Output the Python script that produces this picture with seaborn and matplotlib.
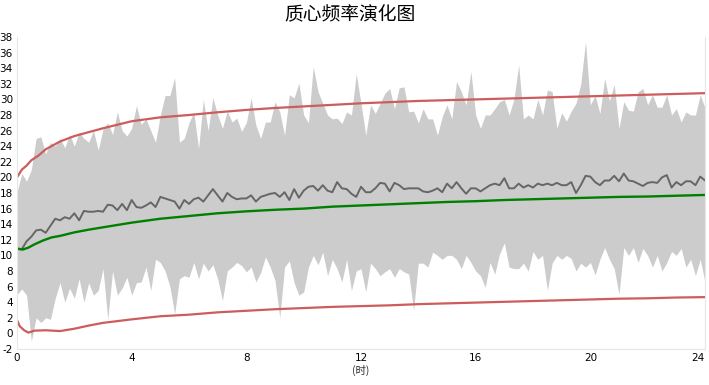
import numpy as np
import pandas as pd
import matplotlib
matplotlib.use("Agg")
import matplotlib.pyplot as plt
import seaborn as sns

title = "质心频率演化图"
x_label = "(时)"
x_ticks = [0, 4, 8, 12, 16, 20, 24]
y_ticks = list(range(-2, 39, 2))

# noisy series sampled every 10 minutes (145 samples over 24 h)
band_upper = [
    18.1, 20.5, 19.5, 21.0, 25.0, 25.2, 23.0, 24.5, 24.0, 25.0,
    23.8, 25.5, 24.0, 25.8, 25.0, 24.5, 26.0, 23.5, 26.2, 27.0,
    25.5, 28.4, 26.0, 25.3, 26.3, 29.2, 26.8, 27.5, 26.0, 24.5,
    28.0, 30.5, 30.5, 32.8, 24.5, 25.0, 27.0, 28.4, 23.7, 30.0,
    26.0, 30.2, 28.0, 26.3, 28.5, 27.1, 27.6, 25.9, 27.0, 30.2,
    26.7, 25.0, 27.1, 27.1, 29.7, 28.4, 25.4, 30.6, 30.2, 32.1,
    28.0, 27.0, 34.2, 31.0, 29.5, 28.0, 27.5, 27.6, 26.9, 28.4,
    28.0, 33.3, 29.5, 25.4, 29.3, 28.2, 29.5, 30.8, 31.4, 28.8,
    31.5, 31.6, 28.4, 28.5, 27.0, 28.8, 27.5, 27.5, 25.4, 27.8,
    29.3, 27.5, 32.3, 31.0, 29.3, 33.6, 28.0, 26.3, 28.0, 28.0,
    28.8, 29.7, 30.0, 28.0, 30.0, 34.4, 27.5, 28.0, 27.5, 30.0,
    28.0, 31.2, 31.0, 26.3, 28.3, 27.2, 28.5, 29.5, 32.0, 37.4,
    29.3, 30.5, 28.2, 32.7, 29.8, 31.9, 26.3, 29.7, 28.6, 28.5,
    31.0, 31.4, 29.3, 30.6, 29.0, 29.0, 30.6, 28.0, 28.8, 27.1,
    28.4, 28.0, 28.0, 30.6, 28.9,
]
band_lower = [
    5.0, 5.7, 4.9, -1.0, 2.0, 1.4, 2.0, 1.8, 4.5, 6.5,
    4.0, 5.8, 4.5, 7.0, 4.0, 6.5, 4.9, 5.5, 8.3, 1.8,
    8.0, 4.9, 5.8, 7.2, 4.9, 6.5, 6.6, 8.5, 5.5, 9.5,
    9.1, 8.0, 6.0, 2.5, 7.0, 7.4, 7.2, 9.1, 7.0, 9.0,
    8.0, 8.8, 7.0, 4.2, 8.0, 8.5, 9.1, 8.7, 7.9, 8.5,
    6.6, 7.8, 9.8, 8.5, 6.8, 2.0, 8.5, 9.3, 6.5, 4.9,
    5.3, 8.5, 10.0, 8.8, 10.4, 7.4, 9.5, 8.3, 6.6, 9.5,
    5.5, 8.0, 8.3, 5.3, 9.0, 8.3, 7.4, 7.9, 8.3, 7.2,
    8.3, 7.9, 7.6, 3.0, 9.0, 9.0, 8.5, 10.4, 10.0, 9.5,
    10.0, 10.0, 9.5, 8.3, 10.0, 9.1, 8.0, 7.4, 5.9, 9.1,
    7.6, 10.2, 11.6, 8.5, 8.3, 8.3, 9.0, 8.0, 10.5, 9.5,
    10.0, 5.5, 9.0, 10.0, 9.5, 10.0, 9.6, 8.0, 9.0, 8.5,
    9.1, 7.5, 9.5, 11.0, 9.5, 8.3, 5.0, 11.0, 10.0, 11.0,
    9.1, 10.9, 10.0, 8.5, 10.0, 8.0, 9.1, 10.5, 10.0, 10.9,
    8.5, 9.5, 7.4, 9.5, 6.6,
]
mean_line = [
    10.9, 10.8, 11.8, 12.4, 13.2, 13.3, 12.9, 13.8, 14.7, 14.5,
    14.9, 14.7, 15.4, 14.5, 15.7, 15.6, 15.6, 15.7, 15.6, 16.5,
    16.4, 15.8, 16.6, 15.8, 17.1, 16.2, 16.1, 16.4, 16.8, 16.2,
    17.5, 17.3, 17.1, 16.9, 16.0, 17.1, 16.6, 17.2, 17.4, 16.9,
    17.7, 18.5, 17.7, 16.9, 18.0, 17.5, 17.2, 17.3, 17.3, 17.7,
    16.9, 17.5, 17.7, 17.9, 18.0, 17.5, 18.1, 17.1, 18.5, 17.4,
    18.3, 18.8, 18.9, 18.3, 19.0, 18.3, 18.1, 19.4, 18.6, 18.5,
    17.9, 17.5, 18.8, 18.1, 18.1, 18.6, 19.3, 19.2, 18.2, 19.3,
    19.0, 18.5, 18.6, 18.6, 18.6, 18.2, 18.1, 18.3, 18.6, 18.1,
    19.2, 18.6, 19.4, 18.6, 17.9, 18.6, 18.6, 18.2, 18.6, 19.0,
    19.2, 19.0, 19.9, 18.6, 18.6, 19.2, 18.7, 19.0, 18.7, 19.2,
    19.0, 19.2, 19.0, 19.3, 19.0, 19.0, 19.4, 18.0, 19.0, 20.2,
    20.1, 19.4, 19.0, 19.6, 19.6, 20.2, 19.5, 20.5, 19.6, 19.5,
    19.2, 18.9, 19.3, 19.4, 19.3, 20.0, 20.3, 18.7, 19.4, 19.0,
    19.5, 19.5, 19.0, 20.1, 19.6,
]
samples_per_hour = 6
hours = np.arange(len(mean_line)) / samples_per_hour

# smooth reference curves (hour, value)
upper_t = [0, 0.17, 0.33, 0.5, 0.75, 1, 1.5, 2, 2.5, 3, 4, 5, 6, 7, 8, 9, 10,
           11, 12, 13, 14, 15, 16, 17, 18, 19, 20, 21, 22, 23, 24]
upper_v = [20.0, 21.0, 21.5, 22.2, 22.8, 23.6, 24.6, 25.3, 25.8, 26.3, 27.2,
           27.7, 28.0, 28.35, 28.65, 28.9, 29.1, 29.3, 29.5, 29.65, 29.8,
           29.9, 30.0, 30.1, 30.2, 30.3, 30.4, 30.5, 30.6, 30.7, 30.8]
lower_t = [0, 0.1, 0.25, 0.4, 0.6, 1, 1.5, 2, 2.5, 3, 4, 5, 6, 7, 8, 9, 10,
           11, 12, 13, 14, 15, 16, 17, 18, 19, 20, 21, 22, 23, 24]
lower_v = [1.7, 0.9, 0.4, 0.1, 0.35, 0.4, 0.3, 0.6, 1.0, 1.35, 1.8, 2.2, 2.4,
           2.7, 2.9, 3.1, 3.25, 3.4, 3.5, 3.6, 3.75, 3.85, 3.95, 4.05, 4.15,
           4.25, 4.35, 4.45, 4.5, 4.6, 4.65]
green_t = [0, 0.2, 0.4, 0.6, 0.9, 1.2, 1.5, 2, 2.5, 3, 4, 5, 6, 7, 8, 9, 10,
           11, 12, 13, 14, 15, 16, 17, 18, 19, 20, 21, 22, 23, 24]
green_v = [10.85, 10.75, 11.0, 11.4, 11.9, 12.3, 12.5, 12.95, 13.3, 13.6,
           14.2, 14.7, 15.05, 15.4, 15.65, 15.85, 16.0, 16.25, 16.4, 16.55,
           16.7, 16.85, 16.95, 17.1, 17.2, 17.3, 17.4, 17.5, 17.55, 17.65, 17.75]

sns.set_theme(style="white")
plt.rcParams["font.family"] = ["DejaVu Sans"]

fig = plt.figure(figsize=(7.09, 3.85), dpi=100)
ax = fig.add_axes([17 / 709, 36 / 385, 688 / 709, 312 / 385])

ax.fill_between(hours, band_lower, band_upper, color="#cccccc", linewidth=0)

noisy = pd.DataFrame({"t": hours, "v": mean_line})
sns.lineplot(data=noisy, x="t", y="v", ax=ax, color="#666666", linewidth=1.4)
sns.lineplot(x=green_t, y=green_v, ax=ax, color="#008000", linewidth=1.7)
sns.lineplot(x=upper_t, y=upper_v, ax=ax, color="#cd5c5c", linewidth=1.6)
sns.lineplot(x=lower_t, y=lower_v, ax=ax, color="#cd5c5c", linewidth=1.6)

ax.set_xlim(0, 24)
ax.set_ylim(-2, 38)
ax.set_xticks(x_ticks)
ax.set_yticks(y_ticks)
ax.set_xticklabels([str(v) for v in x_ticks], fontsize=7.5, color="black")
ax.set_yticklabels([str(v) for v in y_ticks], fontsize=7.5, color="black")
xt = ax.get_xticklabels()
xt[-1].set_ha("right")
ax.tick_params(axis="both", length=0)
ax.tick_params(axis="y", pad=3)
ax.tick_params(axis="x", pad=3)
ax.set_xlabel(x_label, fontsize=7.5, family=["Noto Sans CJK SC", "DejaVu Sans"],
              labelpad=1)
ax.set_ylabel("")
for side in ["left", "bottom", "right"]:
    ax.spines[side].set_color("#e6e6e6")
    ax.spines[side].set_linewidth(0.8)
ax.spines["top"].set_visible(False)
ax.grid(False)

fig.text(350 / 709, 1 - 15 / 385, title, ha="center", va="center", fontsize=13.5,
         family=["Noto Sans CJK SC", "DejaVu Sans"], color="black")

fig.savefig("out.png", dpi=100)
